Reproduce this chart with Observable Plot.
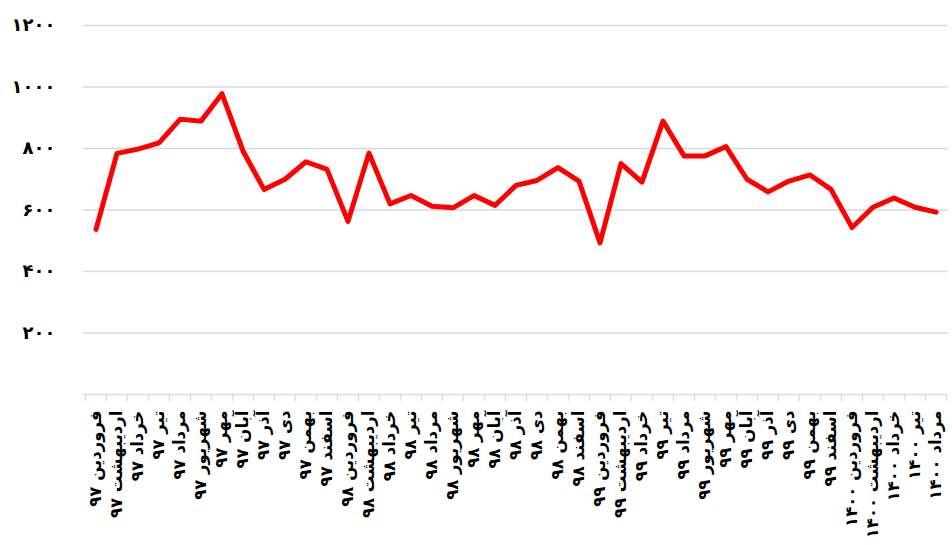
<!DOCTYPE html>
<html>
<head>
<meta charset="utf-8">
<script src="https://cdn.jsdelivr.net/npm/d3@7"></script>
<script src="https://cdn.jsdelivr.net/npm/@observablehq/plot@0.6"></script>
<style>
  body { margin: 0; background: #fff; }
  #chart svg { display: block; }
</style>
</head>
<body>
<div id="chart"></div>
<script>
// Monthly periods (Solar Hijri), Farvardin 97 through Mordad 1400
const periods = [
  "فروردین ۹۷", "اردیبهشت ۹۷", "خرداد ۹۷", "تیر ۹۷", "مرداد ۹۷", "شهریور ۹۷",
  "مهر ۹۷", "آبان ۹۷", "آذر ۹۷", "دی ۹۷", "بهمن ۹۷", "اسفند ۹۷",
  "فروردین ۹۸", "اردیبهشت ۹۸", "خرداد ۹۸", "تیر ۹۸", "مرداد ۹۸", "شهریور ۹۸",
  "مهر ۹۸", "آبان ۹۸", "آذر ۹۸", "دی ۹۸", "بهمن ۹۸", "اسفند ۹۸",
  "فروردین ۹۹", "اردیبهشت ۹۹", "خرداد ۹۹", "تیر ۹۹", "مرداد ۹۹", "شهریور ۹۹",
  "مهر ۹۹", "آبان ۹۹", "آذر ۹۹", "دی ۹۹", "بهمن ۹۹", "اسفند ۹۹",
  "فروردین ۱۴۰۰", "اردیبهشت ۱۴۰۰", "خرداد ۱۴۰۰", "تیر ۱۴۰۰", "مرداد ۱۴۰۰"
];

// Monthly values
const values = [
  537, 784, 798, 818, 895, 889, 978, 792, 667, 700, 757, 732,
  563, 785, 620, 647, 612, 607, 647, 615, 680, 696, 738, 694,
  493, 751, 691, 889, 776, 776, 806, 700, 659, 694, 714, 667,
  543, 609, 639, 609, 593
];

// Value axis ticks
const yTicks = [200, 400, 600, 800, 1000, 1200];

const faDigits = "۰۱۲۳۴۵۶۷۸۹";
const toFa = d => String(d).replace(/\d/g, c => faDigits[+c]);

const W = 952, H = 545;
const marginLeft = 83, marginRight = 4, marginTop = 25, marginBottom = 151;
const bandWidth = (W - marginLeft - marginRight) / periods.length;

const data = periods.map((period, i) => ({period, value: values[i]}));

const chart = Plot.plot({
  width: W,
  height: H,
  marginLeft, marginRight, marginTop, marginBottom,
  style: {
    fontFamily: "'DejaVu Sans', sans-serif",
    fontWeight: "bold",
    color: "#000",
    background: "#fff",
    overflow: "visible"
  },
  x: {type: "band", domain: periods, padding: 0, label: null},
  y: {domain: [0, 1200], label: null},
  marks: [
    // horizontal gridlines and the category axis line
    Plot.ruleY(yTicks, {stroke: "#d9d9d9", strokeWidth: 1.3}),
    Plot.ruleY([0], {stroke: "#d9d9d9", strokeWidth: 1.3}),
    // tick marks between categories
    Plot.ruleX(periods, {x: d => d, y1: 0, y2: 0, insetBottom: -7, dx: -bandWidth / 2, stroke: "#d9d9d9", strokeWidth: 1.3}),
    Plot.ruleX(periods.slice(-1), {x: d => d, y1: 0, y2: 0, insetBottom: -7, dx: bandWidth / 2, stroke: "#d9d9d9", strokeWidth: 1.3}),
    Plot.axisY({ticks: yTicks, tickFormat: toFa, tickSize: 0, tickPadding: 28, fontSize: 18}),
    Plot.axisX({tickSize: 0, tickRotate: -90, tickPadding: 16, fontSize: 16.5}),
    Plot.line(data, {
      x: "period", y: "value",
      stroke: "#ff0000", strokeWidth: 5,
      strokeLinejoin: "round", strokeLinecap: "round"
    })
  ]
});

document.getElementById("chart").appendChild(chart);
</script>
</body>
</html>
